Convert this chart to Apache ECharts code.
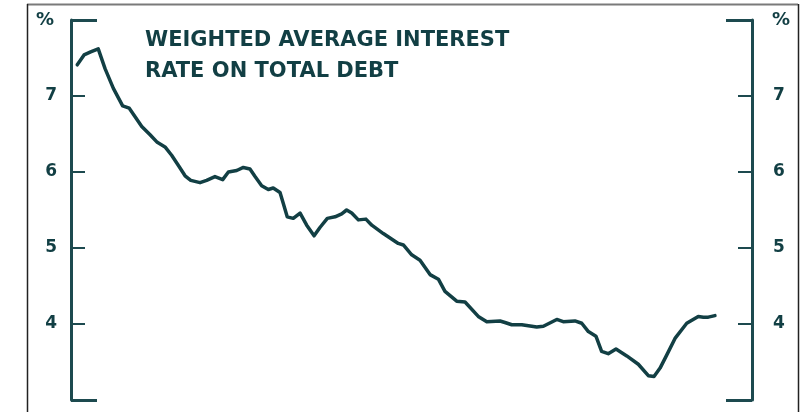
<!DOCTYPE html>
<html>
<head>
<meta charset="utf-8">
<script src="https://cdn.jsdelivr.net/npm/echarts@6/dist/echarts.min.js"></script>
<style>
html,body{margin:0;padding:0;background:#fff;}
#c{width:807px;height:412px;}
</style>
</head>
<body>
<div id="c"></div>
<script>
// Time (decimal year) and weighted average interest rate on total debt (%)
const years = [1990.83,1991.19,1991.54,1991.94,1992.30,1992.74,1993.23,1993.58,1994.24,1994.68,
1995.06,1995.47,1995.82,1996.17,1996.53,1996.83,1997.32,1997.67,1998.11,1998.52,
1998.82,1999.26,1999.61,1999.96,2000.23,2000.58,2000.93,2001.19,2001.55,2001.72,
2001.93,2002.25,2002.61,2002.96,2003.35,2003.66,2004.05,2004.46,2004.81,2005.07,
2005.34,2005.69,2006.09,2006.40,2007.01,2007.80,2008.07,2008.51,2008.95,2009.48,
2009.92,2010.27,2010.89,2011.33,2012.03,2012.48,2013.18,2013.44,2013.80,2014.33,
2015.12,2015.47,2016.18,2016.52,2017.14,2017.50,2017.85,2018.25,2018.55,2018.90,
2019.31,2019.88,2020.49,2021.02,2021.32,2021.64,2021.99,2022.43,2023.05,2023.66,
2023.93,2024.19,2024.54];
const rates = [7.41,7.54,7.58,7.62,7.36,7.10,6.87,6.84,6.60,6.49,
6.39,6.33,6.22,6.09,5.95,5.89,5.86,5.89,5.94,5.90,
6.00,6.02,6.06,6.04,5.94,5.82,5.77,5.79,5.73,5.59,
5.41,5.39,5.46,5.30,5.16,5.27,5.39,5.41,5.45,5.50,
5.46,5.37,5.38,5.30,5.19,5.06,5.04,4.91,4.84,4.65,
4.59,4.43,4.30,4.29,4.10,4.03,4.04,4.02,3.99,3.99,
3.96,3.97,4.06,4.03,4.04,4.01,3.90,3.84,3.64,3.61,
3.67,3.58,3.47,3.32,3.31,3.42,3.59,3.81,4.01,4.10,
4.09,4.09,4.11];
const tickValues = [4,5,6,7];
const bracketValues = [3,8];
const titleLines = ['WEIGHTED AVERAGE INTEREST','RATE ON TOTAL DEBT'];
const unit = '%';

const teal = '#123f44';
const axisCol = '#1d4a4f';
const fontFam = '"DejaVu Sans", sans-serif';

const chart = echarts.init(document.getElementById('c'), null, {renderer:'canvas'});

function mainAxis(pos){
  const left = pos === 'left';
  return {
    type:'value', position:pos, min:3, max:8, interval:1,
    name: unit, nameLocation:'end', nameGap:0,
    nameTextStyle:{color:teal, fontFamily:fontFam, fontWeight:'bold', fontSize:18,
      align: left ? 'right' : 'left', verticalAlign:'middle',
      padding: left ? [0,17,0,0] : [0,0,0,20]},
    axisLine:{show:true, lineStyle:{color:axisCol, width:3}},
    axisTick:{show:true, inside:true, length:14, customValues:tickValues, lineStyle:{color:axisCol, width:2}},
    axisLabel:{show:true, customValues:tickValues, margin: left ? 14 : 21, color:teal,
      fontFamily:fontFam, fontWeight:'bold', fontSize:17},
    splitLine:{show:false}
  };
}
function bracketAxis(pos){
  return {
    type:'value', position:pos, min:3, max:8, interval:1,
    axisLine:{show:false},
    axisTick:{show:true, inside:true, length:26, customValues:bracketValues, lineStyle:{color:axisCol, width:3}},
    axisLabel:{show:false},
    splitLine:{show:false}
  };
}

chart.setOption({
  animation:false,
  backgroundColor:'#fff',
  title:{
    text: titleLines.join('\n'),
    left:140, top:20,
    textStyle:{color:teal, fontFamily:fontFam, fontWeight:'bold', fontSize:21, lineHeight:31}
  },
  grid:{left:71, right:55, top:20, bottom:12, containLabel:false},
  xAxis:{type:'value', min:1990.5, max:2026.5, show:false},
  yAxis:[mainAxis('left'), mainAxis('right'), bracketAxis('left'), bracketAxis('right')],
  series:[{
    type:'line', data: years.map((y,i)=>[y, rates[i]]),
    showSymbol:false, smooth:false,
    lineStyle:{color:teal, width:3.5, join:'round', cap:'round'}
  }],
  graphic:[
    {type:'line', shape:{x1:27, y1:4.5, x2:798, y2:4.5}, style:{stroke:'#7a7a7a', lineWidth:2}},
    {type:'line', shape:{x1:27.5, y1:4, x2:27.5, y2:412}, style:{stroke:'#222', lineWidth:1.5}},
    {type:'line', shape:{x1:798.5, y1:4, x2:798.5, y2:412}, style:{stroke:'#222', lineWidth:1.5}}
  ]
});
</script>
</body>
</html>
